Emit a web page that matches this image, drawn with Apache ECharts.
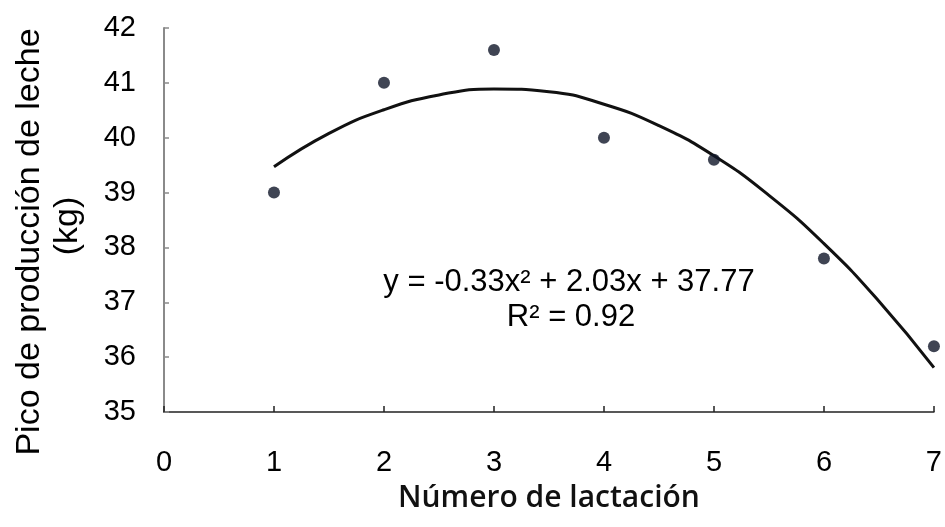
<!DOCTYPE html>
<html>
<head>
<meta charset="utf-8">
<script src="https://cdn.jsdelivr.net/npm/echarts@6/dist/echarts.min.js"></script>
<style>html,body{margin:0;padding:0;background:#fff;}#c{width:945px;height:527px;}</style>
</head>
<body>
<div id="c"></div>
<script>
// Observed data points (lactation number, peak milk yield kg)
var lactation = [1, 2, 3, 4, 5, 6, 7];
var peakYield = [39.0, 41.0, 41.6, 40.0, 39.6, 37.8, 36.2];
// Trend curve, values
var curveX = [1, 1.5, 2, 2.5, 3, 3.5, 4, 4.5, 5, 5.5, 6, 6.5, 7];
var curveY = [39.47, 40.08, 40.51, 40.78, 40.89, 40.84, 40.61, 40.22, 39.67, 38.95, 38.07, 37.02, 35.81];
var equationText = 'y = -0.33x² + 2.03x + 37.77';
var r2Text = 'R² = 0.92';
var xName = 'Número de lactación';
var yNameLine1 = 'Pico de producción de leche';
var yNameLine2 = '(kg)';

var chart = echarts.init(document.getElementById('c'));
var pts = lactation.map(function (x, i) { return [x, peakYield[i]]; });
var curve = curveX.map(function (x, i) { return [x, curveY[i]]; });
var font = 'Liberation Sans';
chart.setOption({
  animation: false,
  backgroundColor: '#fff',
  grid: { left: 164, right: 8, top: 28, bottom: 115 },
  xAxis: {
    type: 'value', min: 0, max: 7, interval: 1,
    name: xName, nameLocation: 'middle', nameGap: 71,
    nameTextStyle: { fontFamily: 'Open Sans', fontSize: 30, fontWeight: 600, color: '#111' },
    axisLine: { onZero: false, lineStyle: { color: '#222', width: 1.5 } },
    axisTick: { inside: true, length: 6, lineStyle: { color: '#222', width: 1.5 } },
    axisLabel: { margin: 36, fontFamily: font, fontSize: 29, color: '#000' },
    splitLine: { show: false }
  },
  yAxis: {
    type: 'value', min: 35, max: 42, interval: 1,
    axisLine: { show: true, lineStyle: { color: '#8a8a8a', width: 2 } },
    axisTick: { show: true, inside: true, length: 5, lineStyle: { color: '#8a8a8a', width: 1.5 } },
    axisLabel: { margin: 28, fontFamily: font, fontSize: 29, color: '#000' },
    splitLine: { show: false }
  },
  graphic: [
    { type: 'text', x: 30, y: 242, rotation: Math.PI / 2,
      style: { text: yNameLine1, font: '34px "Liberation Sans"', fill: '#000', align: 'center', verticalAlign: 'middle' } },
    { type: 'text', x: 68, y: 226, rotation: Math.PI / 2,
      style: { text: yNameLine2, font: '34px "Liberation Sans"', fill: '#000', align: 'center', verticalAlign: 'middle' } },
    { type: 'text', x: 569, y: 282,
      style: { text: equationText, font: '31px "Liberation Sans"', fill: '#000', align: 'center', verticalAlign: 'middle' } },
    { type: 'text', x: 571, y: 317,
      style: { text: r2Text, font: '31px "Liberation Sans"', fill: '#000', align: 'center', verticalAlign: 'middle' } }
  ],
  series: [
    { type: 'line', data: curve, smooth: true, showSymbol: false, clip: false,
      lineStyle: { color: '#111', width: 3 }, z: 2 },
    { type: 'scatter', data: pts, symbol: 'circle', symbolSize: 12, clip: false,
      itemStyle: { color: '#0f1528' }, z: 3 }
  ]
});
</script>
</body>
</html>
